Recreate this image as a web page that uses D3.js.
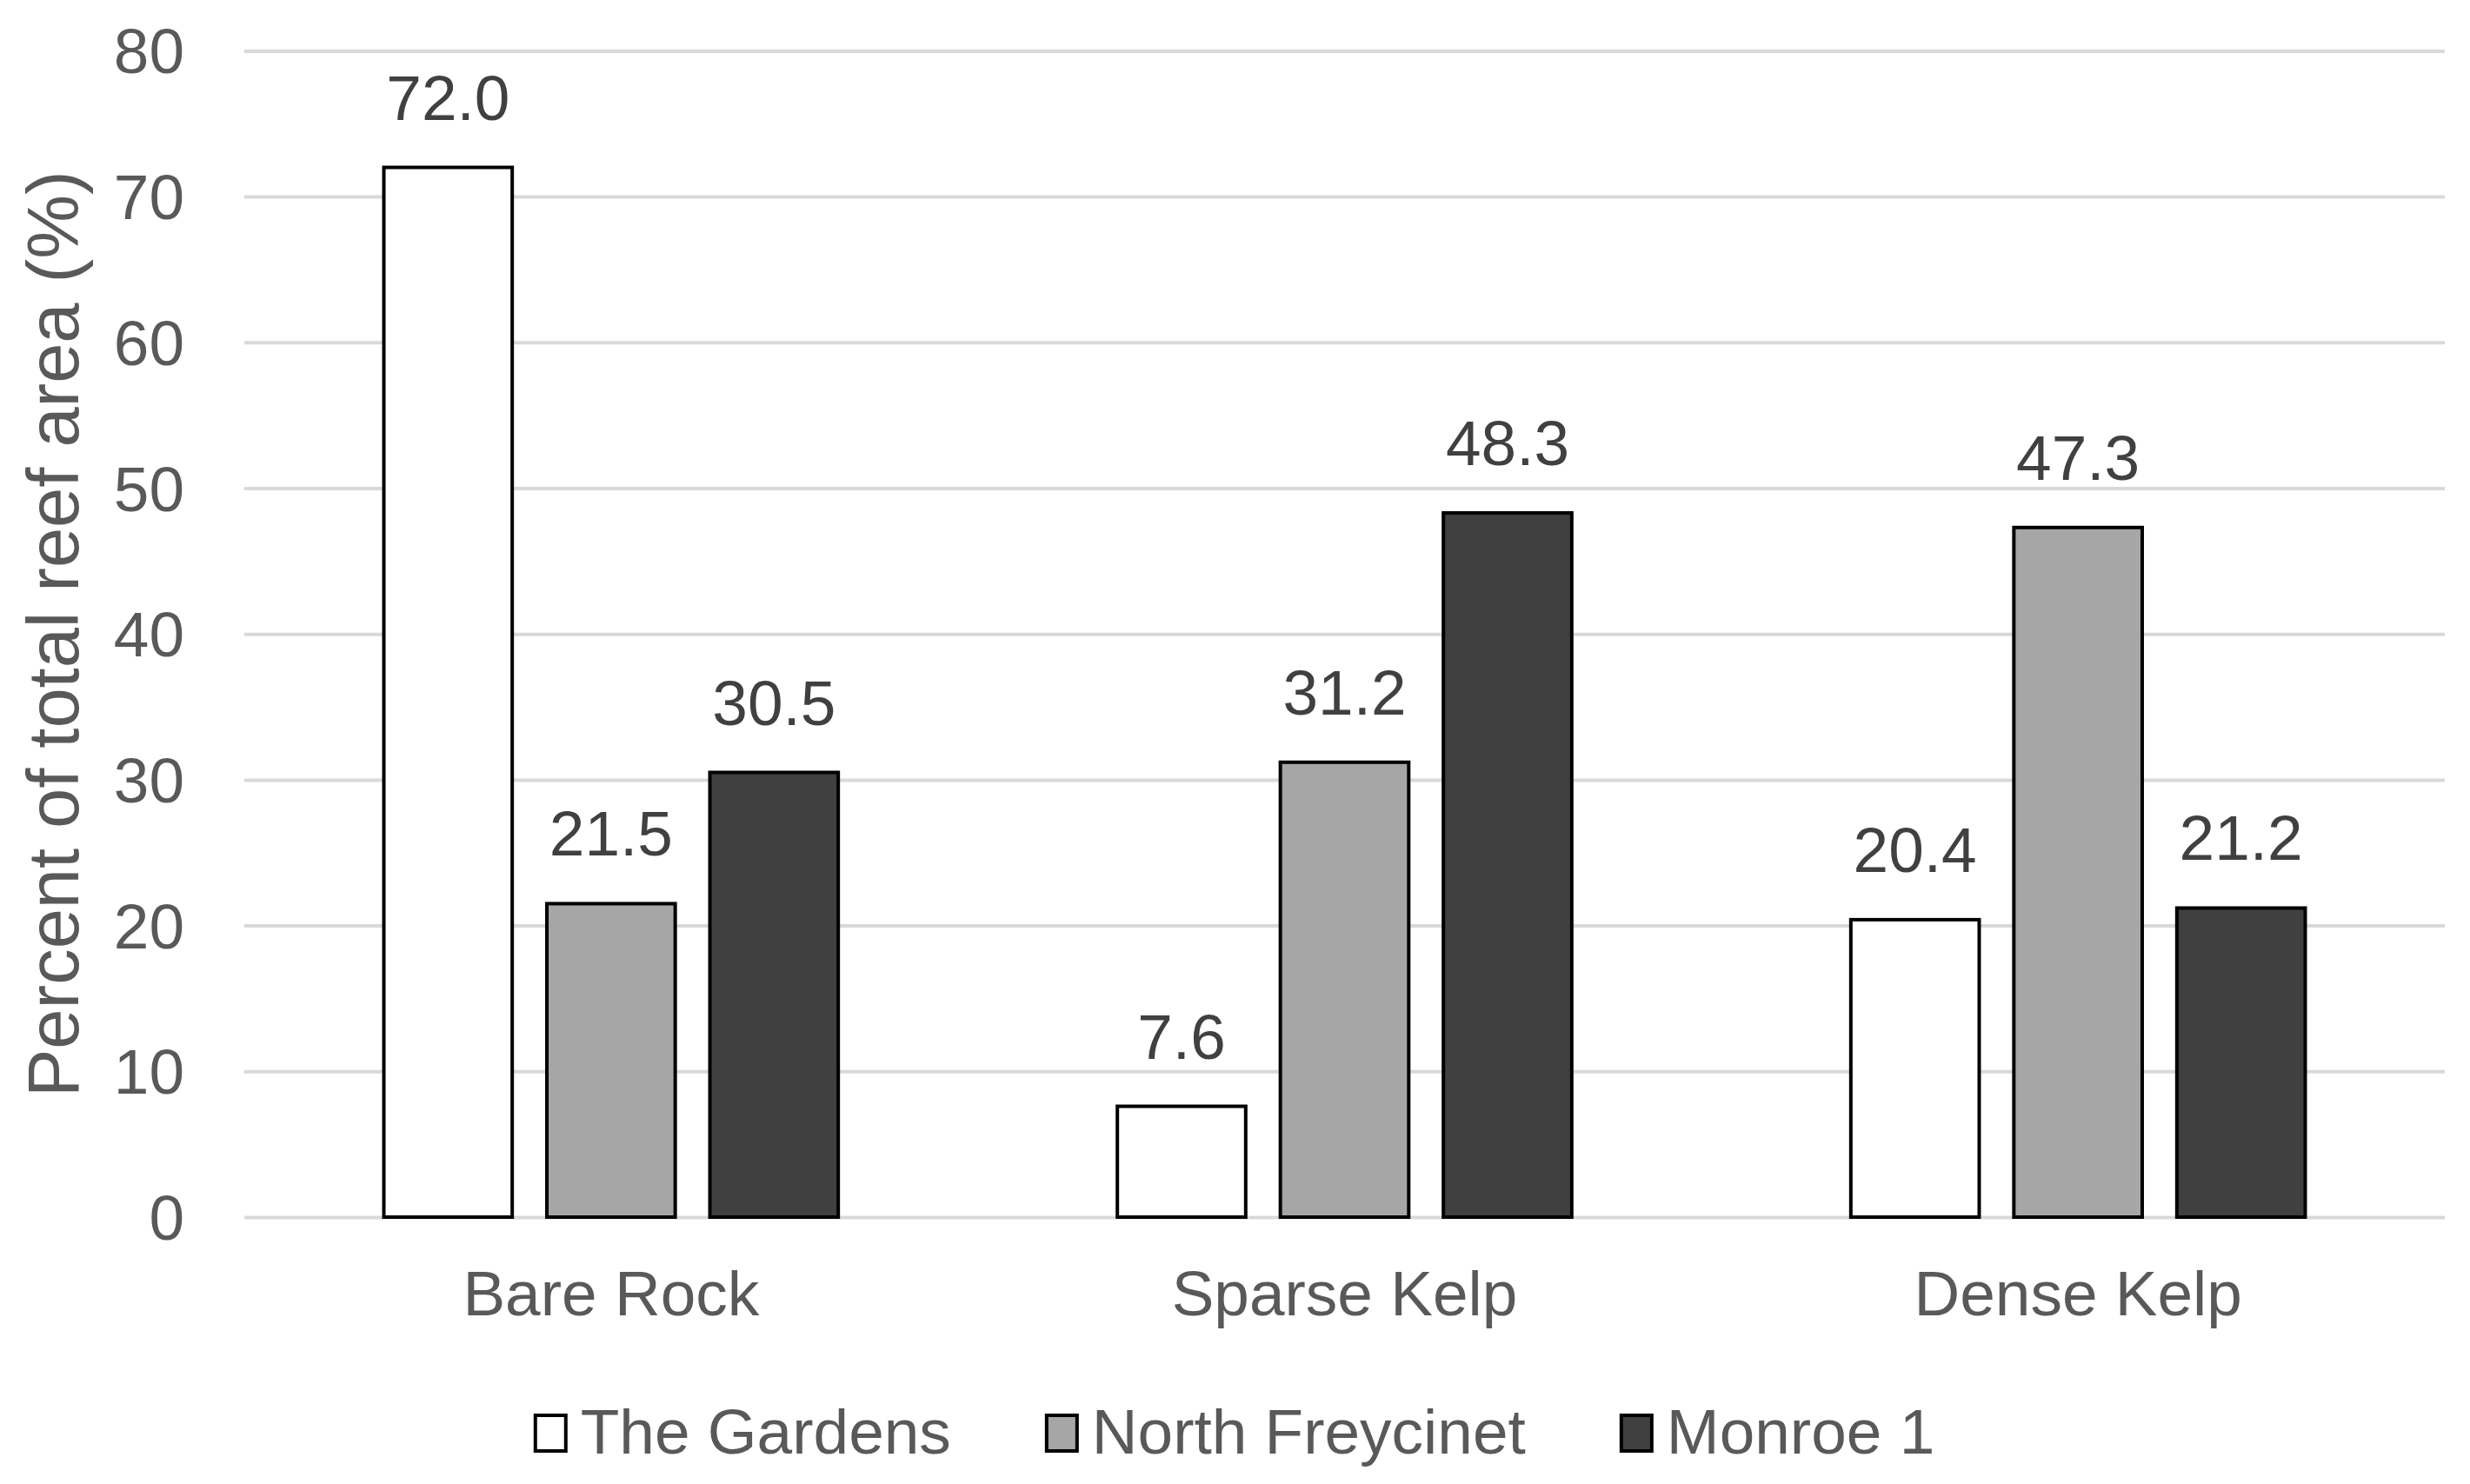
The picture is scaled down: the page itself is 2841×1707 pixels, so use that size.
<!DOCTYPE html>
<html><head><meta charset="utf-8">
<script src="https://cdn.jsdelivr.net/npm/d3@7"></script>
<style>body{margin:0;background:#fff}svg{display:block}text{font-family:"Liberation Sans",Arial,sans-serif}</style>
</head><body>
<script>
const categories = ["Bare Rock", "Sparse Kelp", "Dense Kelp"];
const seriesNames = ["The Gardens", "North Freycinet", "Monroe 1"];
const theGardens = [72.0, 7.6, 20.4];
const northFreycinet = [21.5, 31.2, 47.3];
const monroe1 = [30.5, 48.3, 21.2];
const yTicks = [0, 10, 20, 30, 40, 50, 60, 70, 80];
const seriesColors = ["#ffffff", "#a6a6a6", "#404040"];
const yTitle = "Percent of total reef area (%)";

const W = 2841, H = 1707;
const mLeft = 281, mRight = 2812, mTop = 58.4, mBottom = 1400;
const svg = d3.select("body").append("svg").attr("width", W).attr("height", H);

const y = d3.scaleLinear().domain([0, 80]).range([mBottom, mTop]);
const x0 = d3.scaleBand().domain(categories).range([mLeft, mRight]).paddingInner(0).paddingOuter(0);
const barW = x0.bandwidth() * 0.175;
const gap = barW * 0.27;
const x1 = d3.scaleBand().domain(seriesNames)
  .range([-(1.5 * barW + gap), 1.5 * barW + gap]).paddingInner(gap / (barW + gap)).paddingOuter(0);

const series = [theGardens, northFreycinet, monroe1];
const data = [];
categories.forEach((c, i) => seriesNames.forEach((s, j) => data.push({c, s, j, v: series[j][i]})));

// gridlines
const yAxis = d3.axisLeft(y).tickValues(yTicks).tickSize(-(mRight - mLeft)).tickPadding(69).tickFormat(d3.format("d"));
const ga = svg.append("g").attr("transform", `translate(${mLeft},0)`).call(yAxis);
ga.select(".domain").remove();
ga.selectAll(".tick line").attr("stroke", "#d9d9d9").attr("stroke-width", 4);
ga.selectAll(".tick text").attr("fill", "#595959").attr("font-size", 73).attr("dy", "0.35em");

// bars
const gBars = svg.append("g");
gBars.selectAll("rect").data(data).join("rect")
  .attr("x", d => x0(d.c) + x0.bandwidth() / 2 + x1(d.s))
  .attr("y", d => y(d.v))
  .attr("width", x1.bandwidth())
  .attr("height", d => y(0) - y(d.v))
  .attr("fill", d => seriesColors[d.j])
  .attr("stroke", "#000").attr("stroke-width", 4);

// data labels
gBars.selectAll("text").data(data).join("text")
  .attr("x", d => x0(d.c) + x0.bandwidth() / 2 + x1(d.s) + x1.bandwidth() / 2)
  .attr("y", d => y(d.v) - 55)
  .attr("text-anchor", "middle").attr("fill", "#404040").attr("font-size", 73)
  .text(d => d3.format(".1f")(d.v));

// x axis labels
const xAxis = d3.axisBottom(x0).tickSize(0).tickPadding(0);
const gx = svg.append("g").attr("transform", `translate(0,${mBottom})`).call(xAxis);
gx.select(".domain").remove();
gx.selectAll(".tick text").attr("fill", "#595959").attr("font-size", 73).attr("dy", null).attr("y", 113);

// y title
svg.append("text").attr("transform", `translate(90,${(mTop + mBottom) / 2}) rotate(-90)`)
  .attr("text-anchor", "middle").attr("fill", "#595959").attr("font-size", 83).text(yTitle);

// legend
const lg = svg.append("g");
const items = lg.selectAll("g").data(seriesNames).join("g");
items.append("rect").attr("width", 35).attr("height", 41).attr("y", -44)
  .attr("fill", (d, i) => seriesColors[i]).attr("stroke", "#000").attr("stroke-width", 4);
items.append("text").attr("x", 52).attr("font-size", 73).attr("fill", "#595959").text(d => d);
const widths = [];
items.each(function () { widths.push(52 + this.querySelector("text").getComputedTextLength()); });
const spacing = 110;
const total = d3.sum(widths) + spacing * (widths.length - 1);
let start = W / 2 - total / 2;
items.attr("transform", (d, i) => { const t = `translate(${start},1672)`; start += widths[i] + spacing; return t; });
</script>
</body></html>
